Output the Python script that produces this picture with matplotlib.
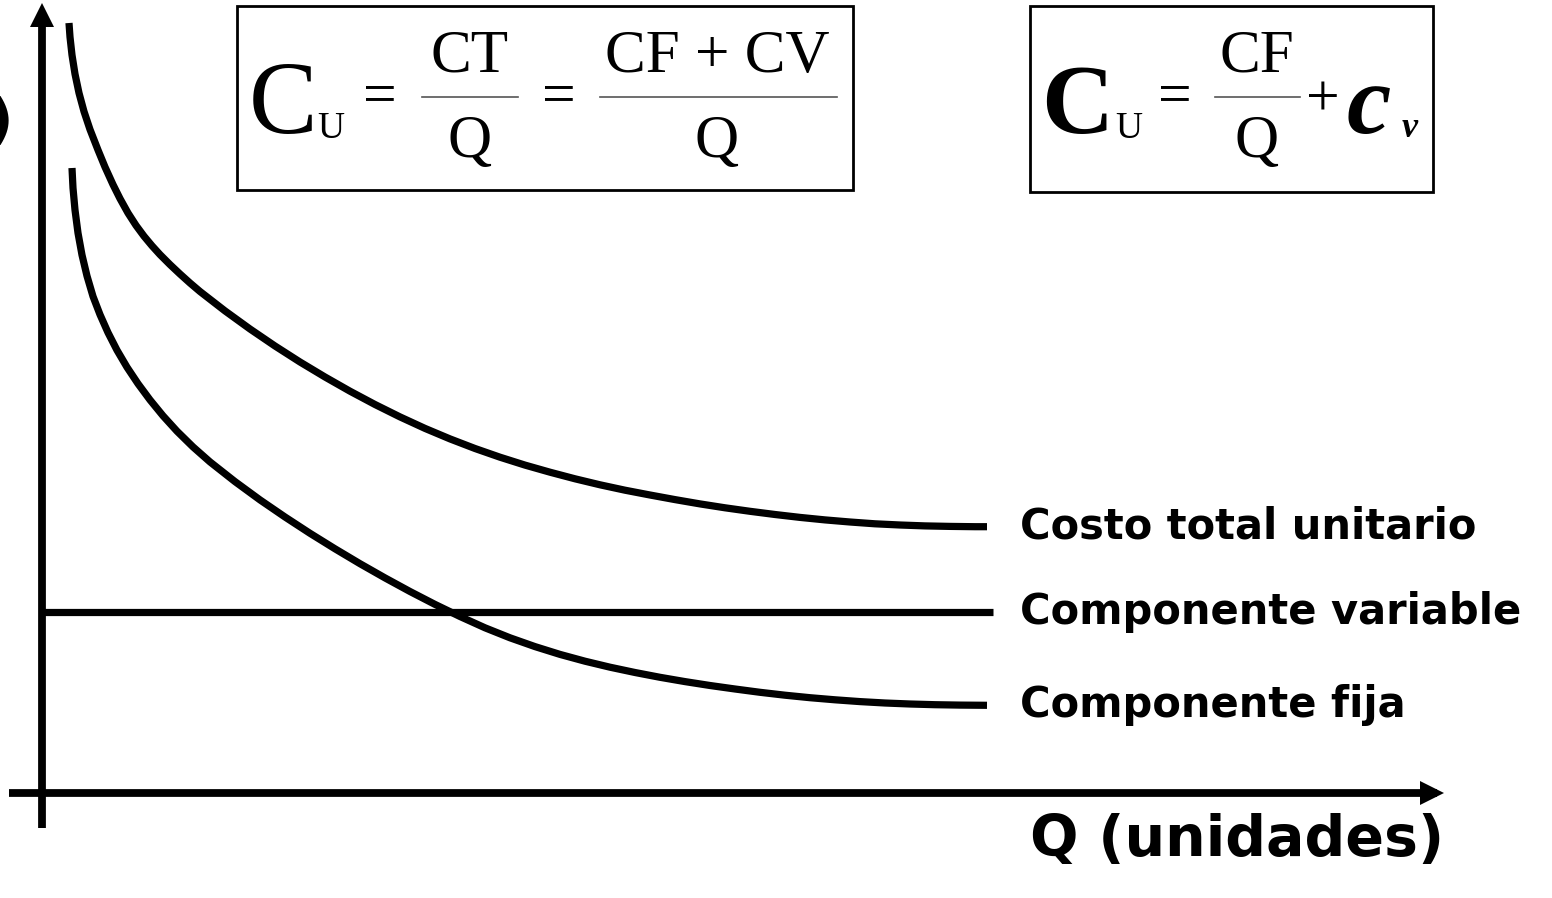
import matplotlib.pyplot as plt
from matplotlib.patches import Rectangle

# curves (Q and cost in arbitrary units)
q_total = [0.27, 0.28, 0.30, 0.33, 0.37, 0.42, 0.48, 0.56, 0.63, 0.71, 0.78, 0.86, 0.94,
           1.02, 1.10, 1.18, 1.28, 1.38, 1.48, 1.58, 1.83, 2.08, 2.33, 2.58, 2.83, 3.08,
           3.33, 3.58, 3.83, 4.08, 4.33, 4.58, 4.83, 5.08, 5.33, 5.58, 5.83, 6.08, 6.33,
           6.58, 6.83, 7.08, 7.33, 7.58, 7.83, 8.08, 8.33, 8.58, 8.83, 9.08, 9.33, 9.45]
c_total = [7.700, 7.560, 7.380, 7.190, 7.000, 6.815, 6.635, 6.430, 6.260, 6.084, 5.944,
           5.800, 5.676, 5.568, 5.472, 5.384, 5.284, 5.190, 5.100, 5.015, 4.821, 4.640,
           4.470, 4.310, 4.160, 4.018, 3.885, 3.761, 3.646, 3.541, 3.445, 3.358, 3.279,
           3.208, 3.142, 3.082, 3.028, 2.980, 2.934, 2.891, 2.852, 2.817, 2.785, 2.756,
           2.731, 2.710, 2.692, 2.680, 2.671, 2.666, 2.663, 2.663]

q_fija = [0.30, 0.31, 0.33, 0.36, 0.40, 0.45, 0.51, 0.58, 0.66, 0.75, 0.85, 0.96, 1.08,
          1.21, 1.35, 1.51, 1.68, 1.93, 2.18, 2.43, 2.68, 2.93, 3.18, 3.43, 3.68, 3.93,
          4.18, 4.43, 4.68, 4.93, 5.18, 5.43, 5.68, 5.93, 6.18, 6.43, 6.68, 6.93, 7.18,
          7.43, 7.68, 7.93, 8.18, 8.43, 8.68, 8.93, 9.18, 9.45]
c_fija = [6.250, 6.050, 5.830, 5.600, 5.380, 5.170, 4.966, 4.784, 4.604, 4.428, 4.258,
          4.093, 3.931, 3.772, 3.618, 3.461, 3.311, 3.114, 2.931, 2.760, 2.597, 2.442,
          2.293, 2.151, 2.015, 1.886, 1.765, 1.652, 1.552, 1.464, 1.386, 1.318, 1.258,
          1.205, 1.157, 1.114, 1.075, 1.040, 1.007, 0.978, 0.953, 0.932, 0.914, 0.900,
          0.890, 0.883, 0.879, 0.877]

q_var = [0.0, 9.51]
c_var = [1.81, 1.81]

labels = ['Costo total unitario', 'Componente variable', 'Componente fija']
label_y = [c_total[-1], c_var[-1], c_fija[-1]]

fig = plt.figure(figsize=(15.52, 8.98), dpi=100)
ax = fig.add_axes([0, 0, 1, 1])
ax.set_xlim(-0.42, 15.10)
ax.set_ylim(-1.05, 7.93)
ax.axis('off')

lw = 5.2
ax.plot(q_total, c_total, color='black', lw=lw, solid_capstyle='butt')
ax.plot(q_fija, c_fija, color='black', lw=lw, solid_capstyle='butt')
ax.plot(q_var, c_var, color='black', lw=lw, solid_capstyle='butt')

# axes with arrow heads
ax.plot([-0.33, 13.95], [0, 0], color='black', lw=5.6, solid_capstyle='butt')
ax.plot([13.90], [0], marker='>', markersize=17, color='black', mew=0)
ax.plot([0, 0], [-0.35, 7.80], color='black', lw=5.6, solid_capstyle='butt')
ax.plot([0], [7.78], marker='^', markersize=17, color='black', mew=0)

for txt, y in zip(labels, label_y):
    ax.text(9.78, y, txt, ha='left', va='center', fontsize=30,
            fontweight='bold', family='DejaVu Sans')

# overlay in pixel units for the formulas
ov = fig.add_axes([0, 0, 1, 1])
ov.set_xlim(0, 1552)
ov.set_ylim(898, 0)
ov.axis('off')
ov.patch.set_alpha(0)

ov.text(1030, 840, 'Q (unidades)', ha='left', va='center', fontsize=41,
        fontweight='bold', family='DejaVu Sans')
ov.text(13, 138, ')', ha='right', va='baseline', fontsize=40,
        fontweight='bold', family='DejaVu Sans')

serif = 'Liberation Serif'
# box 1
ov.add_patch(Rectangle((237, 6), 616, 184, fill=False, lw=2, ec='black'))
ov.text(249, 133, 'C', fontsize=74, family=serif, va='baseline')
ov.text(317, 138, 'U', fontsize=27, family=serif, va='baseline')
ov.text(380, 112, '=', fontsize=43, family=serif, va='baseline', ha='center')
ov.text(470, 72, 'CT', fontsize=44, family=serif, va='baseline', ha='center')
ov.plot([422, 518], [97, 97], color='#555555', lw=1.2)
ov.text(470, 157, 'Q', fontsize=44, family=serif, va='baseline', ha='center')
ov.text(559, 112, '=', fontsize=43, family=serif, va='baseline', ha='center')
ov.text(717, 72, 'CF + CV', fontsize=44, family=serif, va='baseline', ha='center')
ov.plot([600, 837], [97, 97], color='#555555', lw=1.2)
ov.text(717, 157, 'Q', fontsize=44, family=serif, va='baseline', ha='center')

# box 2
ov.add_patch(Rectangle((1030, 6), 403, 186, fill=False, lw=2, ec='black'))
ov.text(1041, 133, 'C', fontsize=72, family=serif, fontweight='bold', va='baseline')
ov.text(1115, 138, 'U', fontsize=27, family=serif, va='baseline')
ov.text(1175, 112, '=', fontsize=43, family=serif, va='baseline', ha='center')
ov.text(1257, 72, 'CF', fontsize=44, family=serif, va='baseline', ha='center')
ov.plot([1215, 1300], [97, 97], color='#555555', lw=1.2)
ov.text(1257, 157, 'Q', fontsize=44, family=serif, va='baseline', ha='center')
ov.text(1323, 115, '+', fontsize=43, family=serif, va='baseline', ha='center')
ov.text(1347, 133, 'c', fontsize=72, family=serif, fontweight='bold',
        style='italic', va='baseline')
ov.text(1402, 137, 'v', fontsize=26, family=serif, fontweight='bold',
        style='italic', va='baseline')

fig.savefig('out.png', dpi=100)
